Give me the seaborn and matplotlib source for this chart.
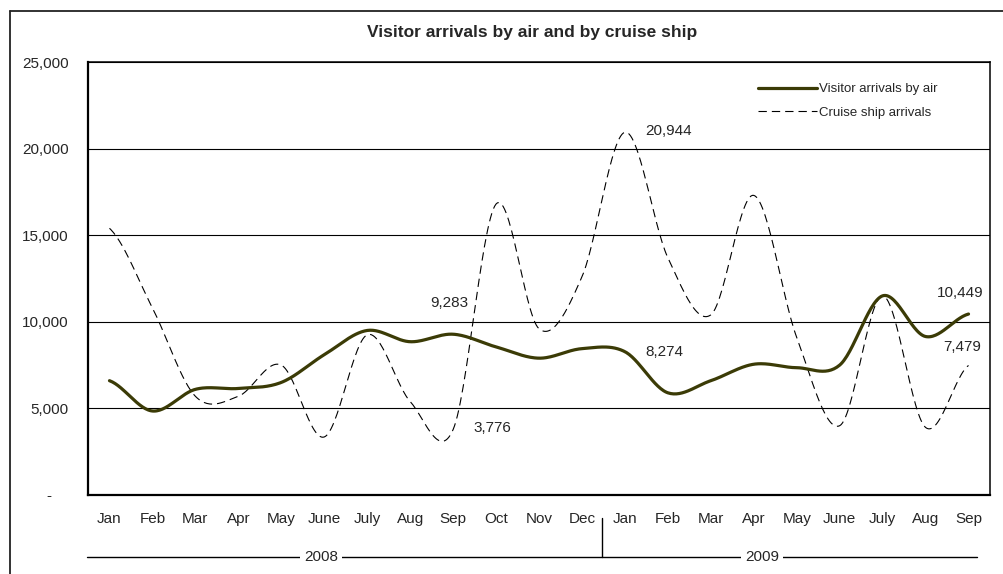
import numpy as np
import pandas as pd
import matplotlib
matplotlib.use('Agg')
import matplotlib.pyplot as plt
from matplotlib.lines import Line2D
import seaborn as sns

months = ['Jan', 'Feb', 'Mar', 'Apr', 'May', 'June', 'July', 'Aug', 'Sep', 'Oct', 'Nov', 'Dec',
          'Jan', 'Feb', 'Mar', 'Apr', 'May', 'June', 'July', 'Aug', 'Sep']
years = ['2008', '2009']
months_per_year = [12, 9]

air = [6600, 4850, 6100, 6150, 6500, 8100, 9500, 8850, 9283, 8550, 7900, 8450,
       8274, 5900, 6600, 7550, 7350, 7500, 11500, 9150, 10449]
cruise = [15400, 10800, 5700, 5700, 7500, 3350, 9250, 5400, 3776, 16800, 9600, 12600,
          20944, 13700, 10400, 17300, 9100, 4000, 11500, 3900, 7479]

yticks = [0, 5000, 10000, 15000, 20000, 25000]

sns.set_style('white')
plt.rcParams['font.family'] = ['Liberation Sans', 'DejaVu Sans']


def smooth(vals, n=30):
    # catmull-rom through the points, like Excel's smoothed line
    p = np.concatenate([[vals[0]], vals, [vals[-1]]]).astype(float)
    xs, ys = [], []
    t = np.linspace(0, 1, n, endpoint=False)
    for i in range(len(vals) - 1):
        p0, p1, p2, p3 = p[i], p[i + 1], p[i + 2], p[i + 3]
        ys.append(0.5 * (2 * p1 + (-p0 + p2) * t + (2 * p0 - 5 * p1 + 4 * p2 - p3) * t ** 2
                         + (-p0 + 3 * p1 - 3 * p2 + p3) * t ** 3))
        xs.append(i + t)
    xs.append([len(vals) - 1])
    ys.append([vals[-1]])
    return np.concatenate(xs), np.concatenate(ys)


fig = plt.figure(figsize=(10.04, 5.74), dpi=100)
ax = fig.add_axes([88 / 1004, 1 - 495 / 574, (990 - 88) / 1004, (495 - 62) / 574])

air_x, air_y = smooth(air)
cr_x, cr_y = smooth(cruise)
df_air = pd.DataFrame({'x': air_x, 'y': air_y})
df_cr = pd.DataFrame({'x': cr_x, 'y': cr_y})

for yv in yticks[1:]:
    ax.axhline(yv, color='black', lw=0.8, zorder=1)

sns.lineplot(data=df_cr, x='x', y='y', ax=ax, color='black', lw=0.8,
             linestyle=(0, (7.5, 4.5)), label='Cruise ship arrivals', zorder=3)
sns.lineplot(data=df_air, x='x', y='y', ax=ax, color='#3b3b06', lw=2.3,
             label='Visitor arrivals by air', zorder=4)

ax.set_xlim(-0.5, len(months) - 0.5)
ax.set_ylim(0, 25000)
ax.set_xlabel('')
ax.set_ylabel('')

ax.set_xticks(range(len(months)))
ax.set_xticklabels(months, fontsize=11)
ax.set_xticks(np.arange(-0.5, len(months)), minor=True)
ax.tick_params(axis='x', which='major', length=0, pad=12)
ax.tick_params(axis='x', which='minor', length=4, width=1, direction='out', color='black')

ax.set_yticks(yticks)
ax.set_yticklabels([f'{v:,}' if v else '-    ' for v in yticks], fontsize=11)
ax.tick_params(axis='y', length=5, width=1, direction='out', color='black', pad=9)

for s in ax.spines.values():
    s.set_color('black')
ax.spines['left'].set_linewidth(1.6)
ax.spines['bottom'].set_linewidth(1.6)
ax.spines['top'].set_linewidth(1.1)
ax.spines['right'].set_linewidth(1.1)
ax.grid(False)

# data labels
def lab(idx, series, dx, dy, ha):
    ax.annotate(f'{series[idx]:,}', (idx, series[idx]), xytext=(dx, dy),
                textcoords='offset pixels', ha=ha, va='center', fontsize=11, zorder=5)

lab(8, air, -4, 31, 'center')
lab(8, cruise, 20, 2, 'left')
lab(12, air, 20, 0, 'left')
lab(12, cruise, 20, 1, 'left')
lab(20, air, -8, 21, 'center')
lab(20, cruise, -6, 18, 'center')

handles, labels = ax.get_legend_handles_labels()
order = [1, 0]
ax.legend([handles[i] for i in order], [labels[i] for i in order],
          loc='upper left', bbox_to_anchor=(758 / 1004, 1 - 83 / 574),
          bbox_transform=fig.transFigure, frameon=False, fontsize=9.5,
          handlelength=4.5, handletextpad=0.1, borderpad=0, borderaxespad=0,
          labelspacing=0.85)

fig.text(532 / 1004, 1 - 33 / 574, 'Visitor arrivals by air and by cruise ship',
         ha='center', va='center', fontsize=12.5, fontweight='bold')

# year level of the category axis
yline = 1 - 557 / 574
fig.add_artist(Line2D([87 / 1004, 977 / 1004], [yline, yline], color='black', lw=1,
                      transform=fig.transFigure))
fig.add_artist(Line2D([602 / 1004, 602 / 1004], [yline, 1 - 518 / 574], color='black', lw=1,
                      transform=fig.transFigure))
for yr, xc in zip(years, [321, 762]):
    fig.text(xc / 1004, yline, yr, ha='center', va='center', fontsize=11,
             bbox=dict(facecolor='white', edgecolor='none', pad=3))

# chart frame
fig.add_artist(Line2D([9.5 / 1004, 9.5 / 1004], [0, 1 - 11 / 574], color='#222222', lw=1.3,
                      transform=fig.transFigure))
fig.add_artist(Line2D([9.5 / 1004, 1], [1 - 11 / 574, 1 - 11 / 574], color='#222222', lw=1.3,
                      transform=fig.transFigure))

fig.savefig('out.png', dpi=100)
